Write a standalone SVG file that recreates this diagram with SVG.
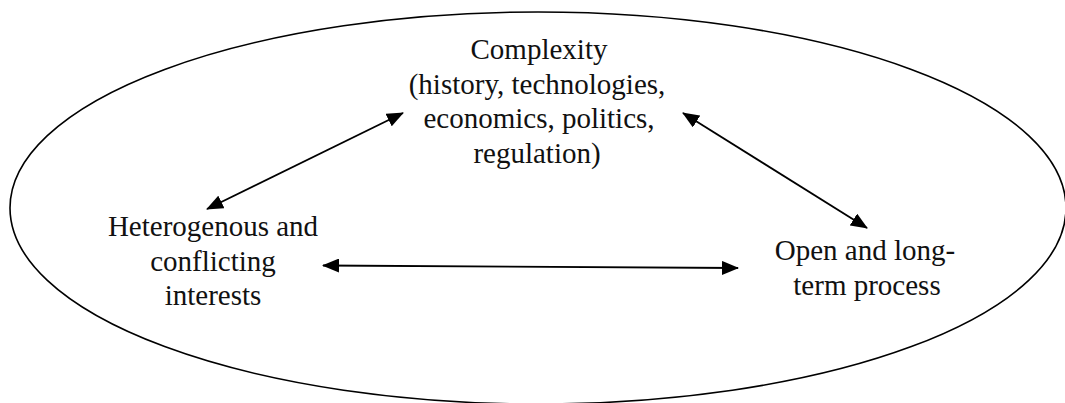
<svg xmlns="http://www.w3.org/2000/svg" width="1065" height="403" viewBox="0 0 1065 403">
  <style>
    .lbl { font-family: "Liberation Serif", "Times New Roman", serif; font-size: 29px; fill: #111; text-anchor: middle; }
    .edge { stroke: #000; stroke-width: 1.8; fill: none; marker-start: url(#ah); marker-end: url(#ah); }
  </style>
  <defs>
    <marker id="ah" markerUnits="userSpaceOnUse" markerWidth="17" markerHeight="14" refX="16" refY="7" orient="auto-start-reverse" viewBox="0 0 17 14">
      <path d="M0,0 L17,7 L0,14 z" fill="#000"/>
    </marker>
  </defs>
  <rect width="1065" height="403" fill="#fff"/>
  <g id="boundary">
    <ellipse cx="538" cy="208" rx="528" ry="196" fill="none" stroke="#000" stroke-width="1.6"/>
  </g>
  <g id="connectors">
    <line class="edge" x1="207" y1="209" x2="403" y2="113"/>
    <line class="edge" x1="683" y1="113" x2="867" y2="228"/>
    <line class="edge" x1="323" y1="265.5" x2="738" y2="268"/>
  </g>
  <g id="complexity">
    <text class="lbl" x="539" y="59">Complexity</text>
    <text class="lbl" x="537" y="93.5">(history, technologies,</text>
    <text class="lbl" x="539" y="128">economics, politics,</text>
    <text class="lbl" x="537" y="162.5">regulation)</text>
  </g>
  <g id="interests">
    <text class="lbl" x="213" y="236">Heterogenous and</text>
    <text class="lbl" x="213" y="270.5">conflicting</text>
    <text class="lbl" x="213" y="305">interests</text>
  </g>
  <g id="process">
    <text class="lbl" x="865" y="260">Open and long-</text>
    <text class="lbl" x="867" y="294.5">term process</text>
  </g>
</svg>
